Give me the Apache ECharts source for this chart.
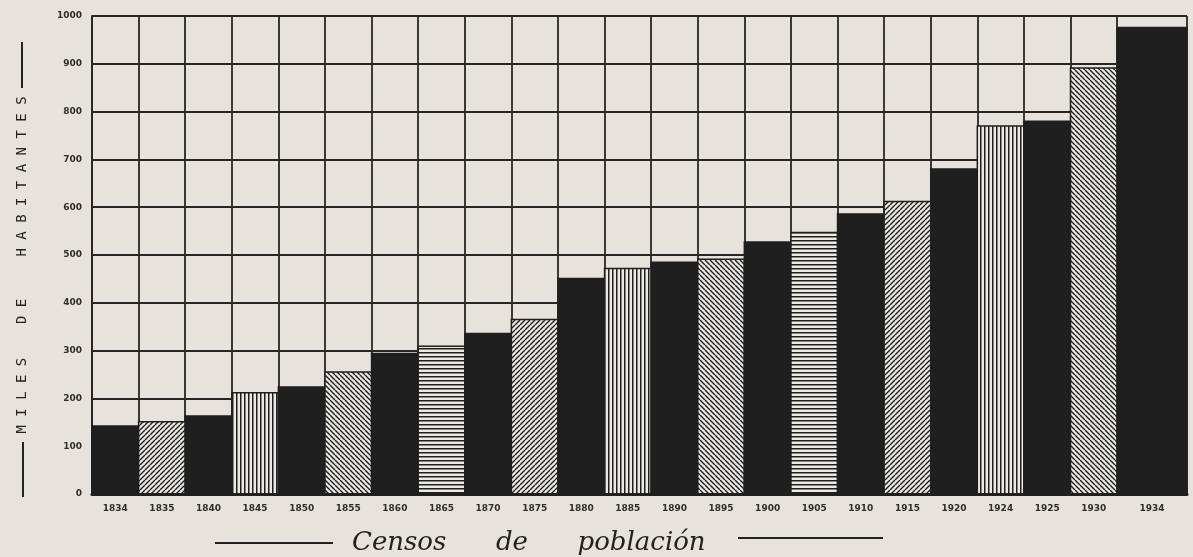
<!DOCTYPE html>
<html><head><meta charset="utf-8">
<script src="https://cdn.jsdelivr.net/npm/echarts@6/dist/echarts.min.js"></script>
<style>html,body{margin:0;padding:0;background:#e7e3dc;}#chart{width:1193px;height:557px;}</style>
</head><body><div id="chart"></div>
<script>
// ---- data ----
const years = ['1834','1835','1840','1845','1850','1855','1860','1865','1870','1875','1880','1885','1890','1895','1900','1905','1910','1915','1920','1924','1925','1930','1934'];
const population = [142,151,163,212,224,255,294,309,336,365,451,472,485,491,527,547,586,612,680,770,780,891,976];
const yTickValues = [0,100,200,300,400,500,600,700,800,900,1000];

// ---- style ----
const BG = '#e7e3dc', DARK = '#1f1f20', LIGHT = '#ece9e3', GRID = '#262626';
const hatchKinds = ['/', '|', '\\', '-'];
function hatch(kind) {
  const s = (kind === '/' || kind === '\\') ? 5 : 4;
  const c = document.createElement('canvas'); c.width = s; c.height = s;
  const g = c.getContext('2d');
  g.fillStyle = LIGHT; g.fillRect(0, 0, s, s);
  g.fillStyle = DARK; g.strokeStyle = DARK; g.lineWidth = 1.4;
  if (kind === '|') g.fillRect(0, 0, 1.5, s);
  else if (kind === '-') g.fillRect(0, 0, s, 1.5);
  else {
    g.beginPath();
    for (const k of [-s, 0, s]) {
      if (kind === '/') { g.moveTo(k, s); g.lineTo(k + s, 0); }
      else { g.moveTo(k, 0); g.lineTo(k + s, s); }
    }
    g.stroke();
  }
  return { type: 'pattern', image: c, repeat: 'repeat' };
}
const patterns = hatchKinds.map(hatch);

const last = years.length - 1;
const spanOf = i => (i === last ? 1.5 : 1);
const centers = years.map((_, i) => i + spanOf(i) / 2);
const xMax = last + spanOf(last);
const labelAt = {}; centers.forEach((c, i) => { labelAt[c] = years[i]; });
// vertical grid lines: one per column boundary; the one inside the wide last column is hidden
const vLineColors = [];
for (let k = 0; k <= last + 2; k++) vLineColors.push(k === last + 1 ? 'rgba(0,0,0,0)' : GRID);

const chart = echarts.init(document.getElementById('chart'), null, { renderer: 'canvas' });
chart.setOption({
  backgroundColor: BG,
  animation: false,
  grid: { left: 92, right: 6, top: 16, bottom: 63 },
  xAxis: [{
    type: 'value', min: 0, max: xMax, interval: 1,
    axisLine: { show: false }, axisTick: { show: false },
    splitLine: { show: true, showMinLine: true, showMaxLine: true, lineStyle: { color: vLineColors, width: 1.8 } },
    axisLabel: {
      customValues: centers, margin: 10,
      formatter: v => labelAt[v] || '',
      fontSize: 9, fontWeight: 'bold', color: '#2e2e2e', fontFamily: 'DejaVu Sans'
    }
  }, {
    type: 'value', min: 0, max: xMax, position: 'bottom', z: 10,
    axisLine: { show: true, lineStyle: { color: DARK, width: 3 } },
    axisTick: { show: false }, axisLabel: { show: false }, splitLine: { show: false }
  }],
  yAxis: {
    type: 'value', min: 0, max: 1000, interval: 100,
    axisLine: { show: true, lineStyle: { color: GRID, width: 2 } },
    axisTick: { show: false },
    splitLine: { show: true, lineStyle: { color: GRID, width: 1.8 } },
    axisLabel: {
      margin: 10, fontSize: 9, fontWeight: 'bold', color: '#2e2e2e', fontFamily: 'DejaVu Sans',
      formatter: v => (yTickValues.indexOf(v) >= 0 ? String(v) : '')
    }
  },
  series: [{
    type: 'custom',
    xAxisIndex: 0,
    data: population.map((v, i) => [i, v]),
    renderItem: (params, api) => {
      const i = api.value(0), v = api.value(1);
      const p0 = api.coord([i, v]);
      const p1 = api.coord([i + spanOf(i), 0]);
      const fill = i % 2 === 0 ? DARK : patterns[((i - 1) / 2) % 4];
      return {
        type: 'rect',
        shape: { x: p0[0], y: p0[1], width: p1[0] - p0[0], height: p1[1] - p0[1] },
        style: { fill: fill, stroke: DARK, lineWidth: 1.5 }
      };
    }
  }],
  graphic: [
    { type: 'line', shape: { x1: 22, y1: 42, x2: 22, y2: 88 }, style: { stroke: '#222', lineWidth: 2 } },
    { type: 'line', shape: { x1: 23, y1: 442, x2: 23, y2: 497 }, style: { stroke: '#222', lineWidth: 2 } },
    { type: 'text', x: 22, y: 265, rotation: Math.PI / 2,
      style: { text: 'M I L E S    D E     H A B I T A N T E S', font: '14px "DejaVu Sans Mono"', fill: '#222',
               align: 'center', verticalAlign: 'middle', textAlign: 'center', textVerticalAlign: 'middle' } },
    { type: 'line', shape: { x1: 215, y1: 543, x2: 333, y2: 543 }, style: { stroke: '#222', lineWidth: 2 } },
    { type: 'text', x: 352, y: 543,
      style: { text: 'Censos      de      población', font: 'italic 26px "DejaVu Serif"', fill: '#222',
               verticalAlign: 'middle', textVerticalAlign: 'middle' } },
    { type: 'line', shape: { x1: 738, y1: 538, x2: 883, y2: 538 }, style: { stroke: '#222', lineWidth: 2 } }
  ]
});
</script></body></html>
